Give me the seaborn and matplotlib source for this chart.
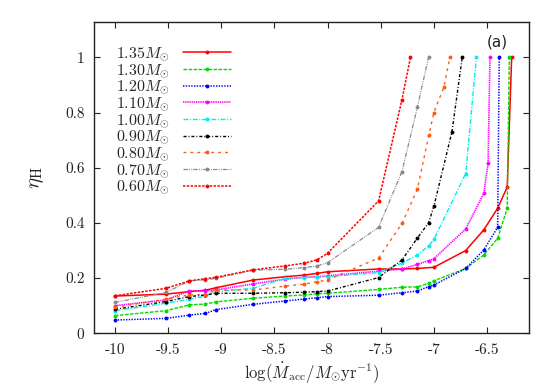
import matplotlib
matplotlib.use("Agg")
import matplotlib.pyplot as plt
import seaborn as sns
import numpy as np
import pandas as pd

sns.set_style("ticks")
plt.rcParams['font.family'] = ['cmr10', 'DejaVu Serif']
plt.rcParams['mathtext.fontset'] = 'cm'
plt.rcParams['axes.unicode_minus'] = False

# ---- data ----
x_low = [-10.0, -9.52, -9.3, -9.15, -9.05, -8.7, -8.4, -8.22, -8.1, -8.0]

masses = ["1.35", "1.30", "1.20", "1.10", "1.00", "0.90", "0.80", "0.70", "0.60"]

x_135 = x_low + [-7.52, -7.3, -7.155, -7.0, -6.7, -6.53, -6.4, -6.31, -6.268]
y_135 = [0.135, 0.142, 0.151, 0.156, 0.165, 0.193, 0.205, 0.211, 0.217, 0.223,
         0.233, 0.233, 0.235, 0.239, 0.30, 0.375, 0.453, 0.53, 1.0]

x_130 = x_low + [-7.52, -7.3, -7.155, -7.05, -7.0, -6.7, -6.53, -6.4, -6.31, -6.29]
y_130 = [0.064, 0.082, 0.103, 0.106, 0.114, 0.127, 0.135, 0.139, 0.143, 0.145,
         0.159, 0.167, 0.168, 0.181, 0.19, 0.235, 0.284, 0.344, 0.453, 1.0]

x_120 = x_low + [-7.52, -7.3, -7.155, -7.05, -7.0, -6.7, -6.53, -6.4, -6.385]
y_120 = [0.048, 0.054, 0.066, 0.072, 0.086, 0.105, 0.117, 0.124, 0.129, 0.133,
         0.138, 0.147, 0.153, 0.169, 0.175, 0.235, 0.302, 0.384, 1.0]

x_110 = x_low + [-7.52, -7.3, -7.155, -7.05, -7.0, -6.7, -6.53, -6.49, -6.472]
y_110 = [0.10, 0.121, 0.154, 0.153, 0.157, 0.179, 0.196, 0.203, 0.205, 0.208,
         0.225, 0.233, 0.25, 0.263, 0.27, 0.378, 0.508, 0.616, 1.0]

x_100 = x_low + [-7.52, -7.3, -7.155, -7.05, -7.0, -6.7, -6.6]
y_100 = [0.082, 0.109, 0.123, 0.135, 0.151, 0.163, 0.199, 0.202, 0.203, 0.205,
         0.22, 0.254, 0.284, 0.316, 0.34, 0.579, 1.0]

x_090 = x_low + [-7.52, -7.3, -7.155, -7.05, -7.0, -6.83, -6.733]
y_090 = [0.087, 0.115, 0.133, 0.139, 0.145, 0.145, 0.147, 0.149, 0.151, 0.153,
         0.202, 0.266, 0.345, 0.40, 0.46, 0.73, 1.0]

x_080 = x_low + [-7.52, -7.3, -7.155, -7.046, -7.0, -6.905, -6.85]
y_080 = [0.094, 0.124, 0.139, 0.14, 0.157, 0.157, 0.171, 0.178, 0.187, 0.193,
         0.273, 0.398, 0.522, 0.72, 0.80, 0.893, 1.0]

x_070 = x_low + [-7.52, -7.3, -7.155, -7.05]
y_070 = [0.112, 0.148, 0.19, 0.194, 0.199, 0.229, 0.232, 0.238, 0.244, 0.256,
         0.384, 0.586, 0.82, 1.0]

x_060 = x_low + [-7.52, -7.3, -7.22]
y_060 = [0.136, 0.163, 0.19, 0.198, 0.203, 0.23, 0.244, 0.254, 0.266, 0.29,
         0.48, 0.847, 1.0]

xs = [x_135, x_130, x_120, x_110, x_100, x_090, x_080, x_070, x_060]
ys = [y_135, y_130, y_120, y_110, y_100, y_090, y_080, y_070, y_060]

x_ticks = [-10, -9.5, -9, -8.5, -8, -7.5, -7, -6.5]
x_ticklabels = ["-10", "-9.5", "-9", "-8.5", "-8", "-7.5", "-7", "-6.5"]
y_ticks = [0, 0.2, 0.4, 0.6, 0.8, 1.0]
y_ticklabels = ["0", "0.2", "0.4", "0.6", "0.8", "1"]

# ---- styles ----
colors = ["#ff0000", "#00dd00", "#0000ff", "#ff00ff", "#00eeee",
          "#000000", "#ff5a10", "#888888", "#ff0000"]
styles = [
    "-",
    (0, (2.6, 1.0)),
    (0, (0.9, 0.9)),
    (0, (0.8, 0.5)),
    (0, (3.5, 1.2, 0.8, 1.2)),
    (0, (2.2, 1.4, 0.7, 1.4)),
    (0, (2.0, 3.0)),
    (0, (3.5, 1.0, 0.7, 1.0, 0.7, 1.0)),
    (0, (1.6, 0.9)),
]
lws = [1.1, 1.0, 1.1, 1.2, 1.0, 1.0, 1.0, 0.9, 1.1]

fig = plt.figure(figsize=(5.56, 3.9), dpi=100)
ax = fig.add_axes([0.1696, 0.1454, 0.952 - 0.1696, 0.9436 - 0.1454])

for m, xv, yv, c, ls, lw in zip(masses, xs, ys, colors, styles, lws):
    df = pd.DataFrame({"x": xv, "y": yv})
    sns.lineplot(data=df, x="x", y="y", ax=ax, color=c, linestyle=ls,
                 linewidth=lw, marker="o", markersize=2.8, markeredgewidth=0,
                 label=r"%s$M_{\odot}$" % m, sort=False)

ax.set_xlim(-10.195, -6.102)
ax.set_ylim(0, 1.128)
ax.set_xticks(x_ticks)
ax.set_xticklabels(x_ticklabels)
ax.set_yticks(y_ticks)
ax.set_yticklabels(y_ticklabels)
ax.tick_params(direction="in", length=4, width=0.8, top=True, right=True,
               labelsize=11, pad=7, colors="#222222")
for s in ax.spines.values():
    s.set_linewidth(1.0)
    s.set_color("#222222")

ax.set_xlabel(r"$\log(\dot{M}_{\rm acc}/M_{\odot}{\rm yr}^{-1})$", fontsize=12, labelpad=3)
ax.set_ylabel(r"$\eta_{\rm H}$", fontsize=15, labelpad=14)

ax.text(0.926, 0.936, "(a)", transform=ax.transAxes, ha="center", va="center",
        fontsize=11, family="DejaVu Sans", color="#222222")

leg = ax.legend(loc="upper left", bbox_to_anchor=(0.035, 0.945), frameon=False,
                markerfirst=False, fontsize=11.5, handlelength=3.0,
                handletextpad=0.8, labelspacing=-0.06, borderaxespad=0.0)

fig.savefig("out.png", dpi=100)
